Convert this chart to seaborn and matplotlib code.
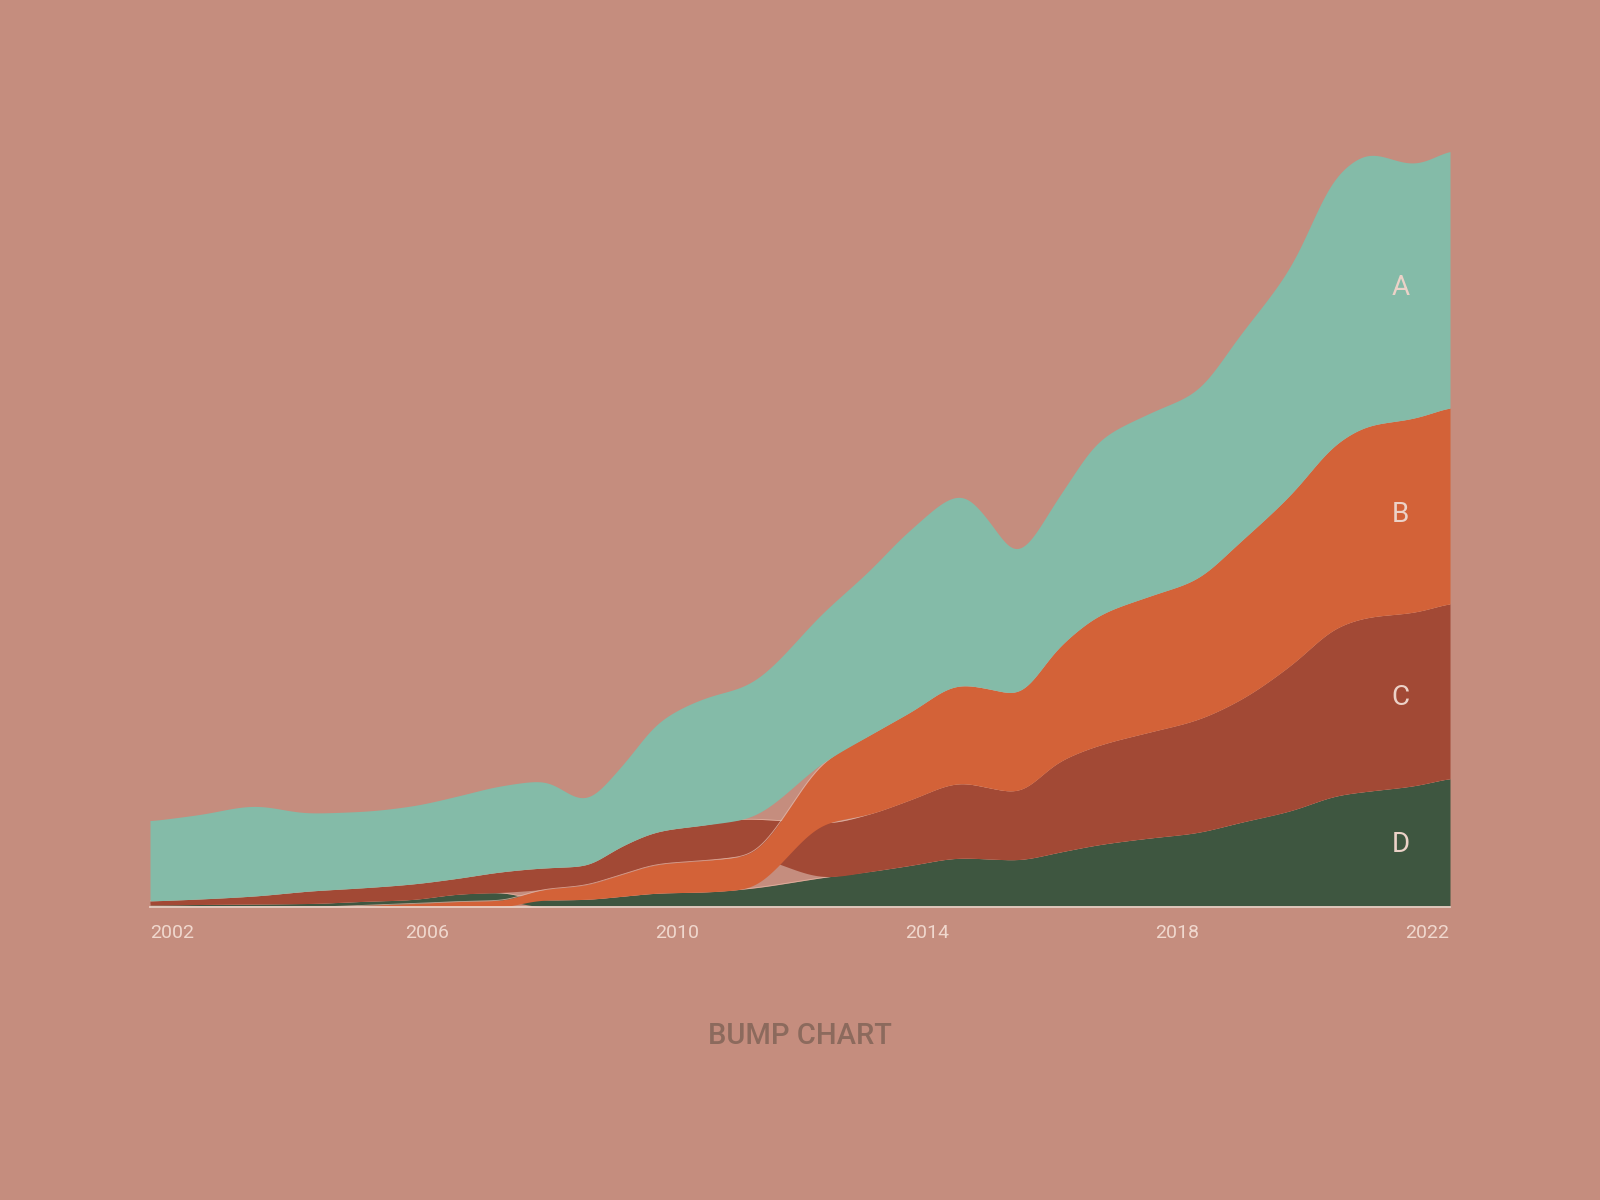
import numpy as np
import pandas as pd
import matplotlib
matplotlib.use("Agg")
import matplotlib.pyplot as plt
import matplotlib.transforms as mtransforms
import seaborn as sns

# ---------------- data ----------------
years = [2001.57, 2002.37, 2003.25, 2004.13, 2004.93, 2005.73, 2006.53, 2007.17,
         2007.86, 2008.51, 2009.09, 2009.73, 2010.45, 2011.09, 2012.40, 2013.09,
         2013.73, 2014.56, 2015.01, 2015.41, 2016.13, 2016.77, 2017.57, 2018.29,
         2019.01, 2019.81, 2020.61, 2021.09, 2021.78, 2022.37]
series_A = [16.0, 16.9, 18.0, 15.6, 15.3, 15.6, 16.5, 17.2, 17.4, 13.2, 15.8, 22.0,
            25.4, 26.6, 30.2, 33.0, 36.5, 38.0, 33.4, 28.2, 30.2, 35.0, 36.6, 37.6,
            41.4, 45.5, 53.8, 54.3, 50.9, 51.4]
series_B = [0.0, 0.0, 0.0, 0.0, 0.3, 0.65, 1.1, 1.3, 2.1, 2.8, 4.3, 5.8,
            6.3, 6.6, 12.6, 15.8, 17.5, 19.6, 19.8, 19.6, 23.0, 26.0, 27.2, 28.1,
            31.6, 34.1, 37.0, 38.3, 38.8, 39.2]
series_C = [0.8, 1.1, 1.6, 2.5, 2.7, 3.1, 3.2, 4.1, 4.3, 3.9, 5.6, 6.6,
            7.1, 7.4, 10.8, 11.5, 13.1, 15.0, 14.2, 13.6, 18.2, 19.9, 21.2, 22.5,
            24.5, 29.0, 33.8, 34.8, 34.7, 35.0]
series_D = [0.4, 0.5, 0.6, 0.7, 0.8, 0.8, 1.5, 1.6, 1.4, 1.5, 2.1, 2.8,
            3.0, 3.6, 6.0, 7.1, 8.3, 9.8, 9.6, 9.4, 11.0, 12.5, 13.8, 14.8,
            16.9, 19.2, 22.4, 23.2, 24.2, 25.8]
names = ["A", "B", "C", "D"]
tick_years = [2002, 2006, 2010, 2014, 2018, 2022]
title = "BUMP CHART"

df = pd.DataFrame({"year": years, "A": series_A, "B": series_B,
                   "C": series_C, "D": series_D})

# ---------------- style ----------------
BG = "#c58d7e"
colors = {"A": "#84bba8", "B": "#d36238", "C": "#a24935", "D": "#3e5640"}
sns.set_theme(style="white")
plt.rcParams["font.family"] = ["Roboto", "DejaVu Sans"]


def pchip(x, y, xn):
    x = np.asarray(x, float)
    y = np.asarray(y, float)
    h = np.diff(x)
    d = np.diff(y) / h
    n = len(x)
    m = np.zeros(n)
    for k in range(1, n - 1):
        if d[k - 1] * d[k] > 0:
            w1 = 2 * h[k] + h[k - 1]
            w2 = h[k] + 2 * h[k - 1]
            m[k] = (w1 + w2) / (w1 / d[k - 1] + w2 / d[k])
    m[0] = d[0]
    m[-1] = d[-1]
    idx = np.clip(np.searchsorted(x, xn) - 1, 0, n - 2)
    t = (xn - x[idx]) / h[idx]
    h00 = 2 * t**3 - 3 * t**2 + 1
    h10 = t**3 - 2 * t**2 + t
    h01 = -2 * t**3 + 3 * t**2
    h11 = t**3 - t**2
    return (h00 * y[idx] + h10 * h[idx] * m[idx]
            + h01 * y[idx + 1] + h11 * h[idx] * m[idx + 1])


def soften(y, sigma_pts):
    r = int(3 * sigma_pts)
    k = np.exp(-0.5 * (np.arange(-r, r + 1) / sigma_pts) ** 2)
    k /= k.sum()
    yp = np.concatenate([np.full(r, y[0]), y, np.full(r, y[-1])])
    return np.convolve(yp, k, mode="valid")


# rank-based stacking: smallest value at the bottom at every date
vals = df[names].to_numpy()
lower = np.zeros_like(vals)
upper = np.zeros_like(vals)
for i in range(len(df)):
    order = np.argsort(vals[i], kind="stable")
    base = 0.0
    for j in order:
        lower[i, j] = base
        base += vals[i, j]
        upper[i, j] = base

xf = np.linspace(df["year"].iloc[0], df["year"].iloc[-1], 3000)
pts_per_year = len(xf) / (xf[-1] - xf[0])
sig = 0.14 * pts_per_year

fig = plt.figure(figsize=(16, 12), dpi=100, facecolor=BG)
ax = fig.add_axes([150 / 1600, (1200 - 907) / 1200, 1300 / 1600, 807 / 1200])
ax.set_facecolor(BG)

curves = {}
for z, name in enumerate(["D", "C", "B", "A"]):
    j = names.index(name)
    lo = np.maximum(soften(pchip(df["year"], lower[:, j], xf), sig), 0)
    up = np.maximum(soften(pchip(df["year"], upper[:, j], xf), sig), 0)
    curves[name] = (lo, up)
    ax.fill_between(xf, lo, up, color=colors[name], lw=0, zorder=2 + z * 2)
    if name != "A":
        sns.lineplot(x=xf, y=up, ax=ax, color="#e7b7a6", lw=0.6, alpha=0.8,
                     estimator=None, sort=False, zorder=3 + z * 2)

ax.set_xlim(years[0], years[-1])
ax.set_ylim(0, 161.4)
ax.set_xticks(tick_years)
ax.set_xticklabels([str(t) for t in tick_years])
ax.set_yticks([])
ax.tick_params(axis="x", length=0, pad=12, labelsize=14, labelcolor="#f0d8ce")
ax.grid(False)
sns.despine(ax=ax, left=True, top=True, right=True, bottom=False)
ax.spines["bottom"].set_color("#ead0c5")
ax.spines["bottom"].set_linewidth(1.3)
ax.spines["bottom"].set_zorder(20)

# first tick label sits flush with the left edge of the plot
first = ax.get_xticklabels()[0]
first.set_transform(first.get_transform() +
                    mtransforms.ScaledTranslation(-5 / 100, 0, fig.dpi_scale_trans))

# series labels near the right edge, centred in each band
lab_year = 2021.58
for name in names:
    lo, up = curves[name]
    k = np.argmin(np.abs(xf - lab_year))
    ax.text(lab_year, (lo[k] + up[k]) / 2 + 0.6, name, ha="center", va="center",
            fontsize=20, color="#ecd2c8", zorder=30)

fig.text(0.5, 1 - 1036 / 1200, title, ha="center", va="center",
         fontsize=21, color="#8c6a5d", fontweight="medium")

fig.savefig("out.png", dpi=100, facecolor=BG)
